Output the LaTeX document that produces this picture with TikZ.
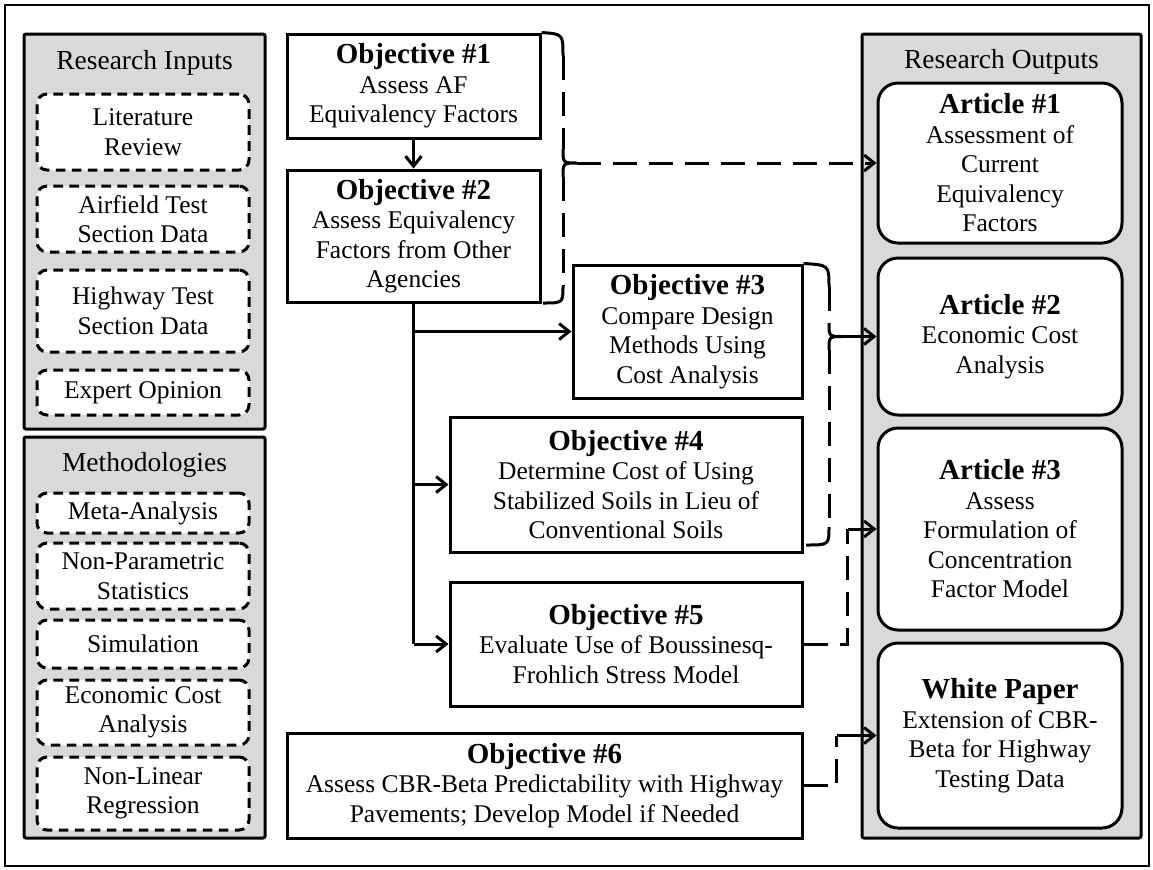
\documentclass[tikz,border=0pt]{standalone}
\usepackage{fontspec}
\setmainfont{Liberation Serif}
\usetikzlibrary{arrows.meta}
\definecolor{panelgray}{RGB}{217,217,217}
\newcommand\bodyf{\fontsize{12.75}{14.75}\selectfont}
\newcommand\hd[1]{{\fontsize{14.5}{14.75}\selectfont\bfseries #1}}
\begin{document}
\begin{tikzpicture}[x=0.5pt,y=-0.5pt,
  panel/.style={draw, line width=1.5pt, fill=panelgray, rounded corners=1pt, inner sep=0pt},
  ptitle/.style={font=\fontsize{13.75}{16}\selectfont, anchor=base, inner sep=0pt},
  inbox/.style={draw, line width=1.5pt, dash pattern=on 4.8pt off 3.2pt, fill=white, rounded corners=5pt, align=center, font=\bodyf, inner sep=0pt, minimum width=106pt},
  objbox/.style={draw, line width=1.5pt, fill=white, align=center, font=\bodyf, inner sep=0pt},
  artbox/.style={draw, line width=1.5pt, fill=white, rounded corners=10pt, align=center, font=\bodyf, inner sep=0pt, minimum width=122pt},
  conn/.style={line width=1.5pt, -{Straight Barb[length=5pt,width=8pt]}},
  dconn/.style={line width=1.5pt, dash pattern=on 12pt off 6pt},
  link/.style={line width=1.5pt}]
\useasboundingbox (0,0) rectangle (1153,869);
\draw[line width=1pt] (5,5) rectangle (1149,866);

% panels
\node[panel, minimum width=120.5pt, minimum height=197.5pt] (inp) at (144.5,231.5) {};
\node[panel, minimum width=120.5pt, minimum height=200.5pt] (meth) at (144.5,637.5) {};
\node[panel, minimum width=139.5pt, minimum height=402pt] (outp) at (1001.5,436) {};
\node[ptitle] (inpt) at (144.5,69) {Research Inputs};
\node[ptitle] (metht) at (144.5,471) {Methodologies};
\node[ptitle] (outpt) at (1001.5,68) {Research Outputs};

% inputs
\node[inbox, minimum height=38pt] (lit) at (143,132) {Literature\\Review};
\node[inbox, minimum height=33pt] (air) at (143,219) {Airfield Test\\Section Data};
\node[inbox, minimum height=41pt] (hwy) at (143,311) {Highway Test\\Section Data};
\node[inbox, minimum height=22.5pt] (exp) at (143,392.5) {Expert Opinion};

% methodologies
\node[inbox, minimum height=20pt] (meta) at (143,513) {Meta-Analysis};
\node[inbox, minimum height=33pt] (npar) at (143,576) {Non-Parametric\\Statistics};
\node[inbox, minimum height=24pt] (sim) at (143,644) {Simulation};
\node[inbox, minimum height=32.5pt] (econ) at (143,712.5) {Economic Cost\\Analysis};
\node[inbox, minimum height=36.5pt] (nlin) at (143,793.5) {Non-Linear\\Regression};

% objectives
\node[objbox, minimum width=126.5pt, minimum height=52pt] (o1) at (413.5,86) {\hd{Objective \#1}\\Assess AF\\Equivalency Factors};
\node[objbox, minimum width=126.5pt, minimum height=66pt] (o2) at (413.5,236) {\hd{Objective \#2}\\Assess Equivalency\\Factors from Other\\Agencies};
\node[objbox, minimum width=114.5pt, minimum height=66.5pt] (o3) at (687.5,331.5) {\hd{Objective \#3}\\Compare Design\\Methods Using\\Cost Analysis};
\node[objbox, minimum width=176pt, minimum height=67.5pt] (o4) at (626,484.5) {\hd{Objective \#4}\\Determine Cost of Using\\Stabilized Soils in Lieu of\\Conventional Soils};
\node[objbox, minimum width=176pt, minimum height=62pt] (o5) at (626,644) {\hd{Objective \#5}\\Evaluate Use of Boussinesq-\\Frohlich Stress Model};
\node[objbox, minimum width=257.5pt, minimum height=52.5pt] (o6) at (544.5,785.5) {\hd{Objective \#6}\\Assess CBR-Beta Predictability with Highway\\Pavements; Develop Model if Needed};

% outputs
\node[artbox, minimum height=80pt] (a1) at (1000,163) {\hd{Article \#1}\\Assessment of\\Current\\Equivalency\\Factors};
\node[artbox, minimum height=78.5pt] (a2) at (1000,336.5) {\hd{Article \#2}\\Economic Cost\\Analysis};
\node[artbox, minimum height=101pt] (a3) at (1000,529) {\hd{Article \#3}\\Assess\\Formulation of\\Concentration\\Factor Model};
\node[artbox, minimum height=92.5pt] (wp) at (1000,735.5) {\hd{White Paper}\\Extension of CBR-\\Beta for Highway\\Testing Data};

% solid connectors
\draw[conn] (o1) -- (o2);
\draw[link] (o2.south) -- (o2.south |- o5.west);
\draw[conn] (o2.south |- o3.west) -- (o3.west);
\draw[conn] (o2.south |- o4.west) -- (o4.west);
\draw[conn] (o2.south |- o5.west) -- (o5.west);

% brace 1 (objectives 1-2 -> article 1)
\coordinate (t1) at (577,163);
\coordinate (b1end) at (543,303);
\draw[link] (o1.north east) .. controls (563,34) .. (563,56);
\draw[dconn] (563,56) -- (563,149);
\draw[link] (563,149) .. controls (563,163) .. (t1) .. controls (563,163) .. (563,177);
\draw[dconn] (563,177) -- (563,286);
\draw[link] (563,286) .. controls (563,303) .. (b1end);
\draw[dconn, -{Straight Barb[length=5pt,width=8pt]}] (t1) -- (a1.west);

% brace 2 (objectives 3-4 -> article 2)
\coordinate (t2) at (843,336.5);
\coordinate (b2end) at (806,545);
\draw[link] (o3.north east) .. controls (829,265) .. (829,287);
\draw[dconn] (829,287) -- (829,323);
\draw[link] (829,323) .. controls (829,336.5) .. (t2) .. controls (829,336.5) .. (829,350);
\draw[dconn] (829,350) -- (829,527);
\draw[link] (829,527) .. controls (829,545) .. (b2end);
\draw[conn] (t2) -- (a2.west);

% objective 5 -> article 3
\path (a3.west) ++(-29,0) coordinate (c5);
\draw[dconn] (o5.east) -| (c5);
\draw[conn] (c5) -- (a3.west);

% objective 6 -> white paper
\path (wp.west) ++(-40,0) coordinate (c6);
\draw[dconn] (o6.east) -| (c6);
\draw[conn] (c6) -- (wp.west);
\end{tikzpicture}
\end{document}
